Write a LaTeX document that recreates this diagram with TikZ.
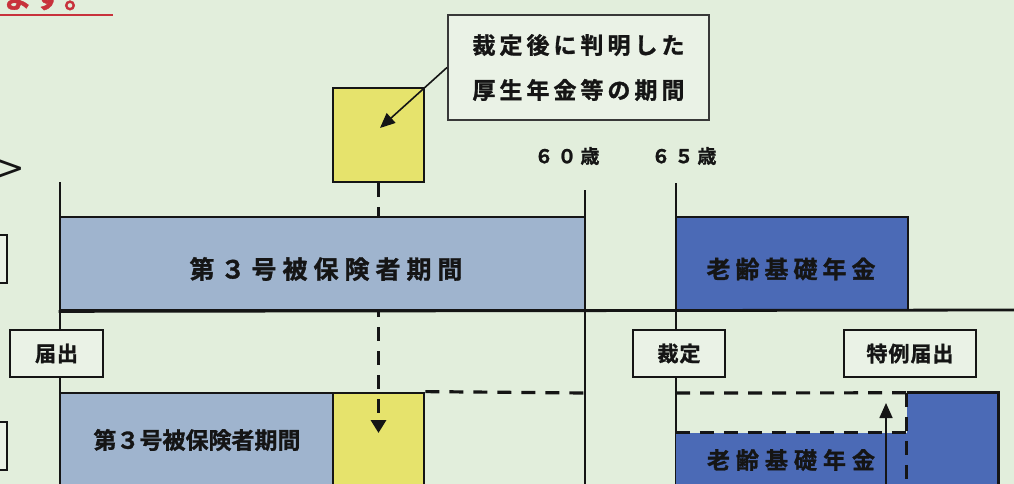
\documentclass[tikz,border=0pt]{standalone}
\usepackage{fontspec}
\newfontfamily\jp{Noto Sans CJK JP}[BoldFont={* Bold}, BoldFeatures={FakeBold=1.2}]
\newfontfamily\djv{DejaVu Sans}
\usetikzlibrary{arrows.meta}
\definecolor{bg}{HTML}{E2EEDC}
\definecolor{boxbg}{HTML}{EAF2E6}
\definecolor{lightbar}{HTML}{9FB4CE}
\definecolor{darkbar}{HTML}{4B6AB6}
\definecolor{yel}{HTML}{E6E36C}
\definecolor{titlered}{HTML}{C8323C}
\definecolor{ink}{HTML}{151515}
\newlength\tsp
\newcommand\gp{\hspace{\tsp}}
\newcommand\fsz[2]{\fontsize{#1}{#1}\selectfont\setlength\tsp{#2pt}}
\tikzset{
  rect/.style={draw=ink, line width=2.8pt, inner sep=0pt, minimum width=#1},
  fillonly/.style={inner sep=0pt, minimum width=#1},
  labelbox/.style={draw=ink, line width=1.8pt, fill=boxbg, inner sep=0pt, minimum width=#1, minimum height=47pt, font=\jp\bfseries, text=ink},
  bartext/.style={inner sep=0pt, font=\jp\bfseries, text=ink},
  axis/.style={draw=ink, line width=2.8pt},
  dashline/.style={draw=ink, line width=3.2pt, dash pattern=on 14pt off 10pt},
  thinarrow/.style={draw=ink, line width=1.6pt, -{Triangle[length=15pt,width=13pt]}},
}
\begin{document}
\begin{tikzpicture}[x=1pt,y=-1pt]
\fill[bg] (0,0) rectangle (1014,484);
\useasboundingbox (0,0) rectangle (1014,484);

% partial title
\node[anchor=base west, inner sep=0pt, text=titlered] (title) at (2,8) {\jp\bfseries\fsz{30}{1}ま\gp す\gp 。};
\coordinate (ulA) at (0,15);
\coordinate (ulB) at (113,15);
\draw[titlered, line width=2.5pt] (ulA) -- (ulB);

% partial left marks
\node[anchor=base west, inner sep=0pt, text=ink] (gt) at (-4,179) {\djv\fontsize{34}{34}\selectfont >};
\node[rect=47pt, minimum height=48pt, fill=boxbg, line width=1.8pt] (lcA) at (-16.5,259) {};
\node[rect=47pt, minimum height=48pt, fill=boxbg, line width=1.8pt] (lcB) at (-16.5,446) {};

% timeline verticals
\coordinate (v60t) at (60,182);  \coordinate (v60b) at (60,484);
\coordinate (v585t) at (585,190); \coordinate (v585b) at (585,484);
\coordinate (v676t) at (676,183); \coordinate (v676b) at (676,484);
\draw[axis] (v60t) -- (v60b);
\draw[axis] (v585t) -- (v585b);
\draw[axis] (v676t) -- (v676b);

% lower row bars
\node[rect=273pt, minimum height=107pt, fill=lightbar] (lbar) at (196.5,446.5) {};
\node[rect=91pt, minimum height=107pt, fill=yel] (lyel) at (378.5,446.5) {};
\node[fillonly=231pt, minimum height=67pt, fill=darkbar] (ldark) at (791.5,466.5) {};
\node[fillonly=91pt, minimum height=107pt, fill=darkbar] (rblock) at (952.5,446.5) {};
\draw[axis] (rblock.north west) -- (rblock.north east) -- (rblock.south east);
\draw[dashline] (rblock.north west) -- (rblock.south west);
\draw[dashline] (ldark.north west) -- (ldark.north east);
\coordinate (d1a) at (676,393);
\draw[dashline] (d1a) -- (rblock.north west);
\coordinate (d2b) at (585,393);
\draw[dashline] (lyel.north east) -- (d2b);

% yellow top box and dashed arrow down
\node[rect=91pt, minimum height=94pt, fill=yel] (ytop) at (378.5,135) {};
\coordinate (dtip) at (378.5,433);
\draw[dashline, -{Triangle[length=13pt,width=15pt]}] (ytop.south) -- (dtip);

% upper bars
\node[rect=525pt, minimum height=93pt, fill=lightbar] (ubar) at (322.5,263.5) {};
\node[rect=232pt, minimum height=93pt, fill=darkbar] (udark) at (792,263.5) {};
\coordinate (hl) at (1014,310);
\draw[axis] (ubar.south west) -- (hl);

% callout
\node[draw=ink!85, line width=2pt, fill=boxbg, inner sep=0pt, minimum width=261pt, minimum height=105pt, align=center, text=ink,
      font={\jp\bfseries\fontsize{23}{45}\selectfont\setlength\tsp{4pt}}] (callout) at (578.5,67.5)
  {裁\gp 定\gp 後\gp に\gp 判\gp 明\gp し\gp た\\厚\gp 生\gp 年\gp 金\gp 等\gp の\gp 期\gp 間};
\coordinate (ctip) at (380,128);
\draw[thinarrow] (callout.west) -- (ctip);

% age labels
\node[bartext] (age60) at (567,156) {\fsz{19}{4}６\gp ０\gp 歳};
\node[bartext] (age65) at (684,156) {\fsz{19}{4}６\gp ５\gp 歳};

% label boxes
\node[labelbox=93pt] (todoke) at (56.5,353.5) {\fsz{21}{1}届\gp 出};
\node[labelbox=92pt] (saitei) at (679,353.5) {\fsz{21}{1}裁\gp 定};
\node[labelbox=132pt] (tokurei) at (910,353.5) {\fsz{21}{1}特\gp 例\gp 届\gp 出};

% up arrow
\coordinate (upb) at (886,484);
\coordinate (upt) at (886,403);
\draw[thinarrow] (upb) -- (upt);

% bar texts
\node[bartext] (t1) at (326,269) {\fsz{25}{6}第\gp ３\gp 号\gp 被\gp 保\gp 険\gp 者\gp 期\gp 間};
\node[bartext] (t2) at (791,269) {\fsz{24}{5}老\gp 齢\gp 基\gp 礎\gp 年\gp 金};
\node[bartext] (t3) at (197,440) {\fsz{23}{0}第\gp ３\gp 号\gp 被\gp 保\gp 険\gp 者\gp 期\gp 間};
\node[bartext] (t4) at (791,460) {\fsz{23}{6}老\gp 齢\gp 基\gp 礎\gp 年\gp 金};
\end{tikzpicture}
\end{document}
